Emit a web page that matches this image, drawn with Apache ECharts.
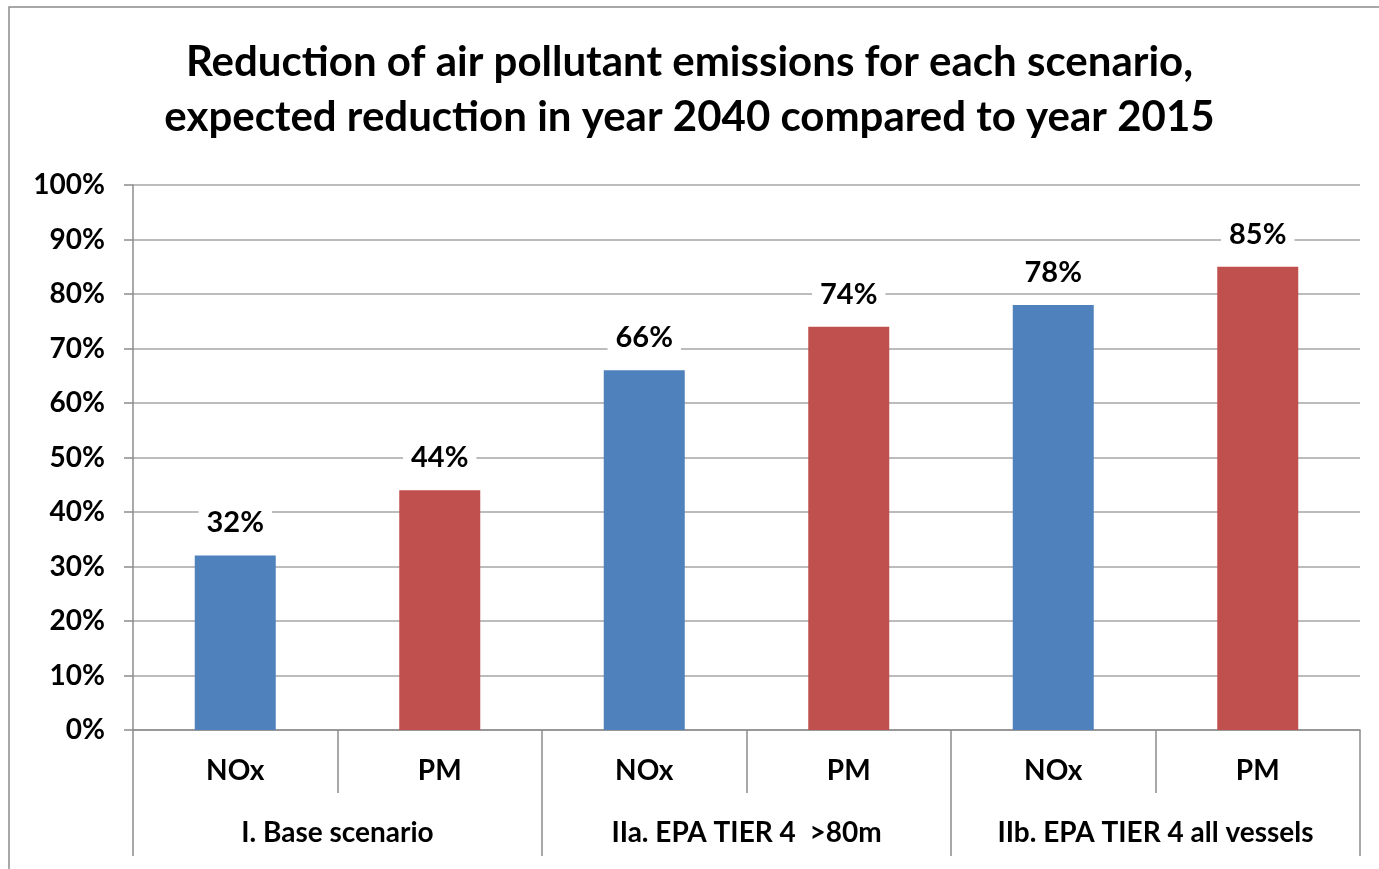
<!DOCTYPE html>
<html>
<head>
<meta charset="utf-8">
<style>
  html, body { margin: 0; padding: 0; background: #fff; }
  #chart { width: 1379px; height: 869px; }
</style>
<script src="https://cdn.jsdelivr.net/npm/echarts@6/dist/echarts.min.js"></script>
</head>
<body>
<div id="chart"></div>
<script>
// Data
var groups = ['I. Base scenario', 'IIa. EPA TIER 4  >80m', 'IIb. EPA TIER 4 all vessels'];
var pollutants = ['NOx', 'PM', 'NOx', 'PM', 'NOx', 'PM'];
var values = [32, 44, 66, 74, 78, 85];
var colours = { NOx: '#4F81BD', PM: '#C0504D' };

var FONT = 'Lato, "Open Sans", sans-serif';

var chart = echarts.init(document.getElementById('chart'), null, { renderer: 'canvas' });

var barData = values.map(function(v, i) {
    return { value: v, itemStyle: { color: colours[pollutants[i]] } };
});

chart.setOption({
    animation: false,
    backgroundColor: '#fff',
    graphic: [{
        type: 'rect',
        shape: { x: 9, y: 7, width: 1400, height: 900 },
        style: { fill: 'none', stroke: '#8c8c8c', lineWidth: 1.5 },
        silent: true
    }],
    title: {
        text: 'Reduction of air pollutant emissions for each scenario,\nexpected reduction in year 2040 compared to year 2015',
        left: 'center',
        top: 30,
        textStyle: { fontFamily: FONT, fontSize: 42, fontWeight: 'bold', color: '#000', lineHeight: 55 }
    },
    grid: { left: 133, right: 19, top: 185, bottom: 139 },
    xAxis: [{
        type: 'category',
        data: pollutants,
        axisLine: { lineStyle: { color: '#8c8c8c', width: 1.5 } },
        axisTick: { show: true, interval: 0, length: 63, lineStyle: { color: '#8c8c8c', width: 1.5 } },
        axisLabel: { interval: 0, margin: 27, fontFamily: FONT, fontSize: 28, fontWeight: 'bold', color: '#000' }
    }, {
        type: 'category',
        data: groups,
        position: 'bottom',
        axisLine: { show: false },
        axisTick: { show: true, interval: 0, length: 126, lineStyle: { color: '#8c8c8c', width: 1.5 } },
        axisLabel: { interval: 0, margin: 89, fontFamily: FONT, fontSize: 28, fontWeight: 'bold', color: '#000' }
    }],
    yAxis: {
        type: 'value',
        min: 0,
        max: 100,
        interval: 10,
        axisLine: { show: true, lineStyle: { color: '#8c8c8c', width: 1.5 } },
        axisTick: { show: true, length: 9, lineStyle: { color: '#8c8c8c', width: 1.5 } },
        splitLine: { lineStyle: { color: '#a6a6a6', width: 1.5 } },
        axisLabel: { formatter: '{value}%', margin: 28, fontFamily: FONT, fontSize: 28, fontWeight: 'bold', color: '#000' }
    },
    series: [{
        type: 'bar',
        xAxisIndex: 0,
        data: barData,
        barWidth: 81,
        label: {
            show: true,
            position: 'top',
            distance: 17,
            formatter: '{c}%',
            fontFamily: FONT,
            fontSize: 29,
            fontWeight: 'bold',
            color: '#000',
            backgroundColor: '#fff',
            padding: [1, 8]
        }
    }]
});
</script>
</body>
</html>
